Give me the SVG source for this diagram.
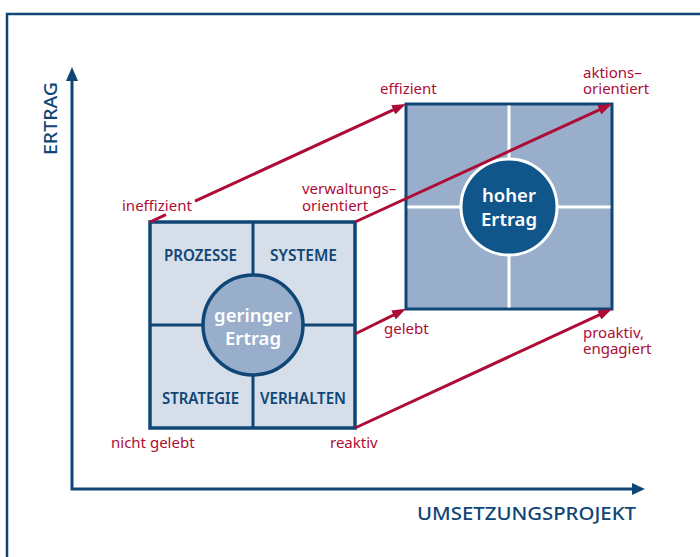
<svg xmlns="http://www.w3.org/2000/svg" width="700" height="557" viewBox="0 0 700 557">
<style>
.red{fill:#ad0c36;font-family:"Noto Sans","Liberation Sans",sans-serif;font-size:15px}
.lbl{fill:#0f4676;font-family:"Noto Sans","Liberation Sans",sans-serif;font-size:16px;font-weight:600;text-anchor:middle}
.ctr{fill:#ffffff;font-family:"Noto Sans","Liberation Sans",sans-serif;font-size:18.5px;font-weight:600;text-anchor:middle}
.ax{fill:#0f4676;font-family:"Noto Sans","Liberation Sans",sans-serif;font-size:18px;font-weight:500}
.conn{fill:none;stroke:#ad0c36;stroke-width:3;marker-end:url(#ah)}
</style>
<defs>
<marker id="ah" viewBox="0 0 14 10" refX="6" refY="5" markerWidth="14" markerHeight="10" markerUnits="userSpaceOnUse" orient="auto">
<path d="M0,0 L14,5 L0,10 z" fill="#ad0c36"/>
</marker>
</defs>
<rect x="0" y="0" width="700" height="557" fill="#ffffff"/>
<rect x="7" y="14" width="760" height="620" fill="none" stroke="#0f4676" stroke-width="2.5"/>
<g id="axes">
<path d="M72 80 L72 489 L632 489" fill="none" stroke="#0f4676" stroke-width="3"/>
<path d="M66 81 L72 67 L78 81 z" fill="#0f4676"/>
<path d="M632 483 L645 489 L632 495 z" fill="#0f4676"/>
<text class="ax" transform="translate(57,155) rotate(-90)" textLength="73" lengthAdjust="spacingAndGlyphs">ERTRAG</text>
<text class="ax" x="417" y="520" textLength="219" lengthAdjust="spacingAndGlyphs">UMSETZUNGSPROJEKT</text>
</g>
<g id="low">
<rect x="150" y="222" width="205" height="206" fill="#d6deea" stroke="#0f4676" stroke-width="3.5"/>
<path d="M253 222 V428 M150 325 H355" stroke="#0f4676" stroke-width="3"/>
<circle cx="253" cy="325" r="50" fill="#98aeca" stroke="#0f4676" stroke-width="3.5"/>
<text class="lbl" x="200.5" y="261" textLength="73" lengthAdjust="spacingAndGlyphs">PROZESSE</text>
<text class="lbl" x="303.5" y="261" textLength="67" lengthAdjust="spacingAndGlyphs">SYSTEME</text>
<text class="lbl" x="200.5" y="404" textLength="77" lengthAdjust="spacingAndGlyphs">STRATEGIE</text>
<text class="lbl" x="303" y="404" textLength="86" lengthAdjust="spacingAndGlyphs">VERHALTEN</text>
<text class="ctr" x="253" y="322">geringer<tspan x="253" dy="23">Ertrag</tspan></text>
</g>
<g id="high">
<rect x="406" y="104" width="206" height="205" fill="#98aeca" stroke="#0f4676" stroke-width="3"/>
<path d="M509 105.5 V307.5 M407.5 207 H610.5" stroke="#ffffff" stroke-width="3"/>
<circle cx="509" cy="207" r="48" fill="#10568a" stroke="#ffffff" stroke-width="3"/>
<text class="ctr" x="509" y="202" font-size="19">hoher<tspan x="509" dy="24">Ertrag</tspan></text>
</g>
<g id="connectors">
<path class="conn" d="M150 222 L166 214.6 M195 201.2 L398.7 107.3"/>
<path class="conn" d="M355 222 L604.7 107.3"/>
<path class="conn" d="M355 334 L398.8 312.4"/>
<path class="conn" d="M355 428 L604.7 312.4"/>
</g>
<g id="labels">
<text class="red" x="122" y="211">ineffizient</text>
<text class="red" x="380" y="94">effizient</text>
<text class="red" x="583" y="78">aktions–<tspan x="583" dy="16">orientiert</tspan></text>
<text class="red" x="302" y="194">verwaltungs–<tspan x="302" dy="17">orientiert</tspan></text>
<text class="red" x="384" y="334">gelebt</text>
<text class="red" x="583" y="338">proaktiv,<tspan x="583" dy="16">engagiert</tspan></text>
<text class="red" x="111" y="448">nicht gelebt</text>
<text class="red" x="330" y="448">reaktiv</text>
</g>
</svg>
